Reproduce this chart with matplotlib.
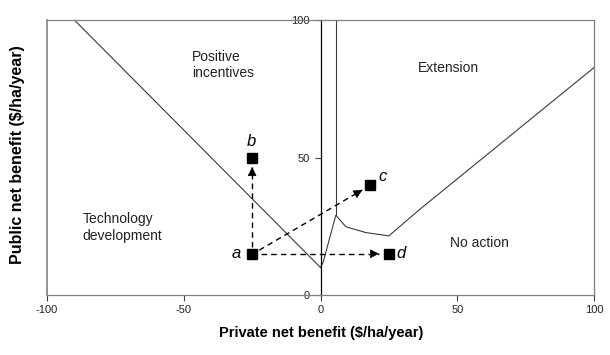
import matplotlib
matplotlib.use("Agg")
import matplotlib.pyplot as plt

plt.rcParams["font.family"] = ["Liberation Sans", "DejaVu Sans"]
plt.rcParams["axes.unicode_minus"] = False

# boundary between technology development and positive incentives
tech_x = [-90, 0]
tech_y = [100, 10]
# lower boundary (no action / extension)
bound_x = [0, 1, 5.6, 9.3, 16.6, 25, 36, 100]
bound_y = [10, 12, 29, 24.8, 22.7, 21.5, 30.9, 82.7]
# vertical boundary between positive incentives and extension
vert_x = [5.6, 5.6]
vert_y = [29, 100]

# example projects
pt_names = ["a", "b", "c", "d"]
pt_x = [-25, -25, 18, 25]
pt_y = [15, 50, 40, 15]
# arrows from a (start, end)
arr_start = [(-25, 17.5), (-22.4, 16.3), (-21.8, 15)]
arr_end = [(-25, 46.5), (15.3, 38.2), (21.4, 15)]

regions = ["Positive\nincentives", "Technology\ndevelopment", "Extension", "No action"]

fig = plt.figure(figsize=(6.1, 3.55), dpi=100)
ax = fig.add_axes([47 / 610, 60 / 355, 547 / 610, 275 / 355])
ax.set_xlim(-100, 100)
ax.set_ylim(0, 100)

frame = "#808080"
for s in ("top", "right", "bottom"):
    ax.spines[s].set_color(frame)
    ax.spines[s].set_linewidth(0.9)
ax.spines["left"].set_position(("data", 0))
ax.spines["left"].set_color("black")
ax.spines["left"].set_linewidth(0.9)
ax.axvline(-100, color=frame, lw=1.2, clip_on=False)

ax.set_xticks([-100, -50, 0, 50, 100])
ax.set_yticks([0, 50, 100])
ax.tick_params(axis="both", direction="out", length=4, width=0.8,
               labelsize=8, color="#404040", labelcolor="#222222")

line_c = "#3a3a3a"
ax.plot(tech_x, tech_y, color=line_c, lw=0.8)
ax.plot(bound_x, bound_y, color=line_c, lw=0.8)
ax.plot(vert_x, vert_y, color=line_c, lw=0.8)

for (x0, y0), (x1, y1) in zip(arr_start, arr_end):
    ax.plot([x0, x1], [y0, y1], color="black", lw=1, ls=(0, (4, 3)))
    dx, dy = x1 - x0, y1 - y0
    L = (dx ** 2 + dy ** 2) ** 0.5
    ax.annotate("", xy=(x1, y1), xytext=(x1 - dx / L * 3, y1 - dy / L * 3),
                arrowprops=dict(arrowstyle="-|>", color="black", lw=0.5,
                                mutation_scale=14, shrinkA=0, shrinkB=0))

ax.plot(pt_x, pt_y, ls="none", marker="s", ms=6.5, color="black")

lab_pos = {"a": (-30.9, 15.1), "b": (-25.2, 55.8), "c": (22.6, 43), "d": (29.3, 15)}
for n in pt_names:
    ax.text(*lab_pos[n], n, fontsize=12, style="italic", ha="center", va="center")

ax.text(-47, 89, regions[0], fontsize=10, ha="left", va="top", color="#222222")
ax.text(-87, 30, regions[1], fontsize=10, ha="left", va="top", color="#222222")
ax.text(35.7, 82.5, regions[2], fontsize=10, ha="left", va="center", color="#222222")
ax.text(47.2, 19, regions[3], fontsize=10, ha="left", va="center", color="#222222")

fig.text(321 / 610, 1 - 333 / 355, "Private net benefit ($/ha/year)",
         fontsize=10.5, fontweight="bold", ha="center", va="center")
fig.text(18 / 610, 1 - 155 / 355, "Public net benefit ($/ha/year)",
         fontsize=11.5, fontweight="bold", ha="center", va="center", rotation=90)

fig.savefig("out.png", dpi=100)
